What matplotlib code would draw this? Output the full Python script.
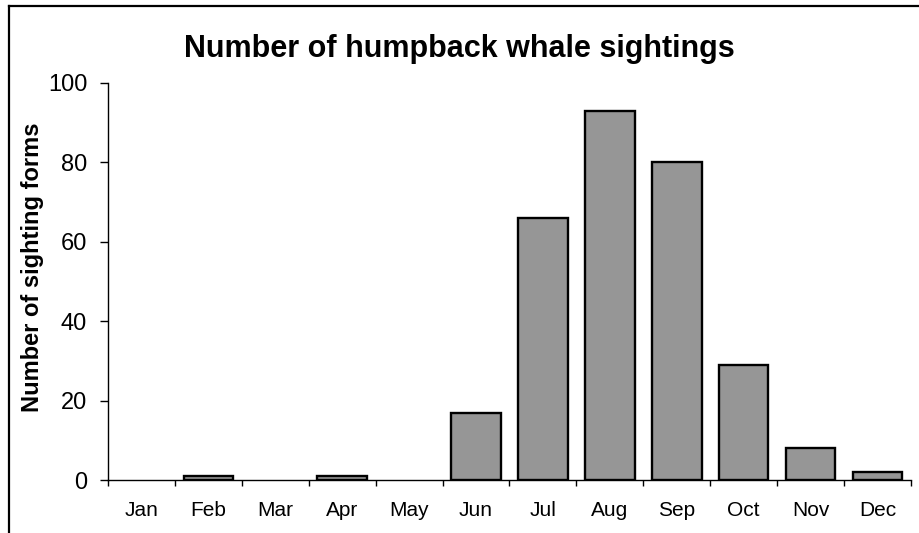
import matplotlib
matplotlib.use('Agg')
import matplotlib.pyplot as plt
import numpy as np
from matplotlib.lines import Line2D

# Data
months = ['Jan', 'Feb', 'Mar', 'Apr', 'May', 'Jun',
          'Jul', 'Aug', 'Sep', 'Oct', 'Nov', 'Dec']
sightings = [0, 1, 0, 1, 0, 17, 66, 93, 80, 29, 8, 2]
y_ticks = [0, 20, 40, 60, 80, 100]

plt.rcParams['font.family'] = ['Liberation Sans', 'DejaVu Sans']

fig = plt.figure(figsize=(9.19, 5.33), dpi=100)
ax = fig.add_axes([0.1175, 0.0994, 0.8738, 0.7449])

x = np.arange(len(months))
# zero-count months show no bar outline at all
edges = ['black' if v > 0 else 'none' for v in sightings]
ax.bar(x, sightings, width=0.74, color='#969696', edgecolor=edges, linewidth=1.7)

ax.set_xlim(-0.5, len(months) - 0.5)
ax.set_ylim(0, 100)

# category boundaries get tick marks, labels sit in the middle
ax.set_xticks(np.arange(-0.5, len(months)), labels=[])
ax.set_xticks(x, labels=months, minor=True)
ax.tick_params(axis='x', which='major', direction='out', length=4.5, width=1)
ax.tick_params(axis='x', which='minor', length=0, labelsize=15, pad=15)

ax.set_yticks(y_ticks)
ax.tick_params(axis='y', direction='out', length=6, width=1, labelsize=17, pad=9)

for side in ['top', 'right']:
    ax.spines[side].set_visible(False)
ax.spines['left'].set_linewidth(1)
ax.spines['bottom'].set_linewidth(1)

ax.set_ylabel('Number of sighting forms', fontsize=17, fontweight='bold')
ax.yaxis.set_label_coords(-0.08, 0.537)
fig.text(0.5, 0.908, 'Number of humpback whale sightings', ha='center', va='center',
         fontsize=22, fontweight='bold')

# outer chart-area border (top and left edges visible)
fig.add_artist(Line2D([8.5 / 919, 8.5 / 919], [0, 1 - 5.5 / 533], color='black',
                      linewidth=1.6, transform=fig.transFigure))
fig.add_artist(Line2D([8.5 / 919, 1], [1 - 5.5 / 533, 1 - 5.5 / 533], color='black',
                      linewidth=1.6, transform=fig.transFigure))

fig.savefig('out.png', dpi=100, facecolor='white')
